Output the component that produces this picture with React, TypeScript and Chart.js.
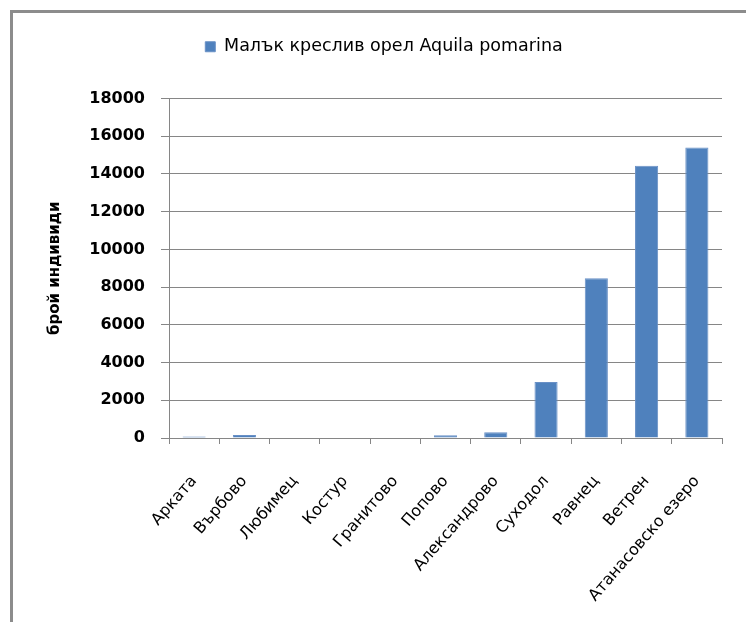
import React, { useEffect, useRef } from 'react';
import { Chart, registerables } from 'chart.js';

Chart.register(...registerables);

const categories = [
  'Арката',
  'Върбово',
  'Любимец',
  'Костур',
  'Гранитово',
  'Попово',
  'Александрово',
  'Суходол',
  'Равнец',
  'Ветрен',
  'Атанасовско езеро',
];
const seriesName = 'Малък креслив орел Aquila pomarina';
const counts = [80, 160, 0, 0, 0, 150, 300, 2970, 8470, 14440, 15400];
const yMin = 0;
const yMax = 18000;
const yStep = 2000;
const yTitle = 'брой индивиди';

const FONT = 'DejaVu Sans';
const GRID = '#868686';

export default function App() {
  const ref = useRef<HTMLCanvasElement | null>(null);

  useEffect(() => {
    if (!ref.current) return;
    const chart = new Chart(ref.current, {
      type: 'bar',
      data: {
        labels: categories,
        datasets: [
          {
            label: seriesName,
            data: counts,
            backgroundColor: '#4f81bd',
            borderColor: '#6990c6',
            borderWidth: 1,
            barPercentage: 0.46,
            categoryPercentage: 1,
          },
        ],
      },
      options: {
        responsive: false,
        animation: false,
        layout: { padding: { top: 28, left: 46, right: 24, bottom: 0 } },
        plugins: {
          legend: {
            position: 'top',
            labels: {
              boxWidth: 10,
              boxHeight: 10,
              padding: 10,
              color: '#000',
              font: { family: FONT, size: 17.5 },
            },
          },
          tooltip: { enabled: false },
        },
        scales: {
          x: {
            grid: { offset: true, drawOnChartArea: false, color: GRID, tickLength: 6 },
            border: { color: GRID },
            ticks: {
              autoSkip: false,
              minRotation: 49,
              maxRotation: 49,
              padding: 28,
              color: '#000',
              font: { family: FONT, size: 16 },
            },
            afterFit: (s: any) => {
              s.height = 622 - 438;
            },
          },
          xTop: {
            type: 'category',
            position: 'top',
            grid: { display: false },
            border: { display: false },
            ticks: { display: false },
            afterFit: (s: any) => {
              s.height = 33;
            },
          },
          y: {
            min: yMin,
            max: yMax,
            ticks: {
              stepSize: yStep,
              padding: 16,
              color: '#000',
              font: { family: FONT, size: 16, weight: 'bold' },
              callback: (v: any) => String(v),
            },
            grid: { color: GRID, tickLength: 8 },
            border: { color: GRID },
            title: {
              display: true,
              text: yTitle,
              color: '#000',
              font: { family: FONT, size: 15, weight: 'bold' },
              padding: { top: 0, bottom: 4 },
            },
            afterFit: (s: any) => {
              s.width = 169 - 46;
            },
          },
        },
      } as any,
    });
    return () => chart.destroy();
  }, []);

  return (
    <div
      style={{
        position: 'fixed',
        left: 0,
        top: 0,
        width: 746,
        height: 622,
        overflow: 'hidden',
        background: '#fff',
      }}
    >
      <canvas
        ref={ref}
        width={746}
        height={622}
        style={{ position: 'absolute', left: 0, top: 0, width: 746, height: 622 }}
      />
      <div
        style={{
          position: 'absolute',
          left: 10,
          top: 10,
          width: 740,
          height: 620,
          borderTop: '3px solid #8c8c8c',
          borderLeft: '3px solid #8c8c8c',
          boxSizing: 'border-box',
        }}
      />
    </div>
  );
}
